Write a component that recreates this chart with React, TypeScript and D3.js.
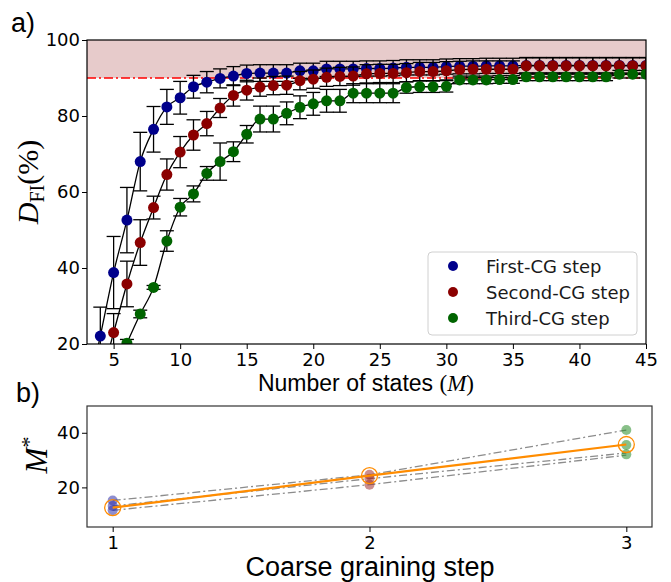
import React, {useEffect, useRef} from 'react';
import * as d3 from 'd3';

const states = [3, 4, 5, 6, 7, 8, 9, 10, 11, 12, 13, 14, 15, 16, 17, 18, 19, 20, 21, 22, 23, 24,
  25, 26, 27, 28, 29, 30, 31, 32, 33, 34, 35, 36, 37, 38, 39, 40, 41, 42, 43, 44, 45];

const firstCG = [6, 22.1, 38.8, 52.6, 68.0, 76.5, 82.4, 84.8, 87.7, 88.9, 89.9, 90.5, 91.2, 91.3, 91.3,
  91.3, 91.9, 91.9, 92.4, 92.4, 92.4, 92.5, 92.5, 92.6, 92.8, 92.8, 92.8, 93.0, 93.1, 93.1, 93.2, 93.2,
  93.2, 93.3, 93.3, 93.3, 93.3, 93.3, 93.3, 93.3, 93.3, 93.3, 93.3];
const firstErr = [7, 7.6, 9.5, 8.6, 7.7, 6.0, 4.6, 4.3, 3.0, 2.8, 2.5, 2.5, 2.2, 2.2, 2.2, 2.2, 2.0,
  2.0, 2.0, 2.0, 2.0, 2.0, 2.0, 2.0, 2.0, 2.0, 2.0, 2.0, 2.0, 2.0, 2.0, 2.0, 2.0, 2.0, 2.0, 2.0, 2.0,
  2.0, 2.0, 2.0, 2.0, 2.0, 2.0];

const secondCG = [null, 10, 23, 35.8, 46.7, 55.9, 64.6, 70.5, 75.0, 78.0, 82.1, 85.4, 86.8, 87.6, 88.0,
  88.1, 89.3, 89.7, 90.2, 90.4, 90.5, 91.1, 91.2, 91.2, 91.4, 91.7, 91.7, 91.9, 92.2, 92.3, 92.3, 92.3,
  92.3, 93.2, 93.2, 93.2, 93.2, 93.2, 93.2, 93.2, 93.2, 93.2, 93.2];
const secondErr = [null, 6, 5, 6, 6, 3, 4.1, 4.1, 4.0, 3.2, 2.5, 2.8, 2.6, 2.4, 2.4, 2.4, 2.4, 2.4,
  2.4, 2.4, 2.4, 2.4, 2.4, 2.4, 2.4, 2.4, 2.4, 2.4, 2.2, 2.2, 2.2, 2.2, 2.2, 2.2, 2.2, 2.2, 2.2, 2.2,
  2.2, 2.2, 2.2, 2.2, 2.2];

const thirdCG = [null, null, 12, 20.2, 27.9, 34.9, 47.1, 56.0, 59.5, 64.9, 68.0, 70.6, 75.2, 79.2, 79.2,
  80.7, 82.3, 83.2, 84.0, 84.0, 86.0, 86.0, 86.0, 86.0, 87.5, 87.7, 87.7, 87.8, 89.5, 89.5, 89.5, 89.6,
  89.6, 90.3, 90.3, 90.3, 90.3, 90.3, 90.3, 90.3, 91.0, 91.0, 91.0];
const thirdErr = [null, null, 1, 1, 1, 0.5, 2.7, 2.3, 2.1, 1.8, 4.9, 2.6, 2.3, 3.4, 3.4, 3.0, 3.0, 3.0,
  3.0, 3.0, 2.5, 2.5, 2.5, 2.5, 1.5, 1.5, 1.5, 1.5, 1.0, 1.0, 1.0, 1.0, 1.0, 1.0, 1.0, 1.0, 1.0, 1.0,
  1.0, 1.0, 1.0, 1.0, 1.0];

const seriesNames = ['First-CG step', 'Second-CG step', 'Third-CG step'];
const seriesColors = ['#00008b', '#8b0000', '#006400'];

const xTicks = [5, 10, 15, 20, 25, 30, 35, 40, 45];
const yTicks = [20, 40, 60, 80, 100];

// panel b
const cgSteps = [1, 2, 3];
const runUpper = [15.2, 24.6, 41.0];
const runMiddle = [13.2, 23.2, 32.6];
const runLower = [11.6, 21.0, 31.8];
const stepPoints = [
  [15.2, 13.2, 11.6],
  [24.6, 23.2, 21.0],
  [41.0, 35.5, 32.1],
];
const stepColors = ['rgba(50,50,170,0.55)', 'rgba(160,50,50,0.55)', 'rgba(40,140,40,0.55)'];
const mStar = [12.6, 24.3, 35.7];
const bYTicks = [20, 40];

const App = () => {
  const svgRef = useRef(null);

  useEffect(() => {
    document.body.style.margin = '0';
    const svg = d3.select(svgRef.current);
    svg.selectAll('*').remove();

    const tickFont = 'DejaVu Sans';

    // ---- panel a
    const x = d3.scaleLinear().domain([3, 45]).range([87, 646]);
    const y = d3.scaleLinear().domain([20, 100]).range([344, 40]);

    svg.append('clipPath').attr('id', 'clipA')
      .append('rect').attr('x', 87).attr('y', 40).attr('width', 559).attr('height', 304);

    const plot = svg.append('g').attr('clip-path', 'url(#clipA)');

    plot.append('rect')
      .attr('x', x(3)).attr('width', x(45) - x(3))
      .attr('y', y(100)).attr('height', y(90) - y(100))
      .attr('fill', '#e7cbcb');

    plot.append('line')
      .attr('x1', x(3)).attr('x2', x(45))
      .attr('y1', y(90)).attr('y2', y(90))
      .attr('stroke', 'red').attr('stroke-width', 1.6)
      .attr('stroke-dasharray', '9,3,2,3');

    const series = [
      {vals: firstCG, errs: firstErr},
      {vals: secondCG, errs: secondErr},
      {vals: thirdCG, errs: thirdErr},
    ];

    const line = d3.line()
      .defined(d => d[1] != null)
      .x(d => x(d[0]))
      .y(d => y(d[1]))
      .curve(d3.curveMonotoneX);

    series.forEach((s, i) => {
      const pts = states.map((st, j) => [st, s.vals[j], s.errs[j]]).filter(d => d[1] != null);
      plot.append('path')
        .datum(pts)
        .attr('d', line)
        .attr('fill', 'none')
        .attr('stroke', 'black')
        .attr('stroke-width', 1.3);

      const bars = plot.append('g').attr('stroke', 'black').attr('stroke-width', 1.3);
      pts.forEach(d => {
        const cx = x(d[0]);
        const lo = y(d[1] - d[2]);
        const hi = y(d[1] + d[2]);
        bars.append('line').attr('x1', cx).attr('x2', cx).attr('y1', lo).attr('y2', hi);
        bars.append('line').attr('x1', cx - 7).attr('x2', cx + 7).attr('y1', lo).attr('y2', lo);
        bars.append('line').attr('x1', cx - 7).attr('x2', cx + 7).attr('y1', hi).attr('y2', hi);
      });

      plot.append('g')
        .selectAll('circle')
        .data(pts)
        .enter()
        .append('circle')
        .attr('cx', d => x(d[0]))
        .attr('cy', d => y(d[1]))
        .attr('r', 5.5)
        .attr('fill', seriesColors[i]);
    });

    svg.append('rect')
      .attr('x', 87).attr('y', 40).attr('width', 559).attr('height', 304)
      .attr('fill', 'none').attr('stroke', 'black').attr('stroke-width', 1.2);

    const xAxis = svg.append('g')
      .attr('transform', 'translate(0,344)')
      .call(d3.axisBottom(x).tickValues(xTicks).tickSize(5).tickPadding(4).tickSizeOuter(0));
    const yAxis = svg.append('g')
      .attr('transform', 'translate(87,0)')
      .call(d3.axisLeft(y).tickValues(yTicks).tickSize(5).tickPadding(2).tickSizeOuter(0));
    [xAxis, yAxis].forEach(a => {
      a.select('.domain').remove();
      a.selectAll('text').attr('font-family', tickFont).attr('font-size', 18).attr('fill', 'black');
    });

    // legend
    const leg = svg.append('g');
    leg.append('rect')
      .attr('x', 428).attr('y', 252).attr('width', 209).attr('height', 83).attr('rx', 4)
      .attr('fill', 'white').attr('fill-opacity', 0.8).attr('stroke', '#d0d0d0');
    seriesNames.forEach((n, i) => {
      const ly = 266 + i * 26;
      leg.append('circle').attr('cx', 453).attr('cy', ly).attr('r', 5).attr('fill', seriesColors[i]);
      leg.append('text').attr('x', 486).attr('y', ly + 6.5)
        .attr('font-family', tickFont).attr('font-size', 18).attr('fill', '#1a1a1a').text(n);
    });

    // labels panel a
    svg.append('text').attr('x', 11).attr('y', 32)
      .attr('font-family', 'Liberation Sans').attr('font-size', 27).text('a)');

    const xl = svg.append('text').attr('x', 366).attr('y', 391).attr('text-anchor', 'middle')
      .attr('font-family', 'Liberation Sans').attr('font-size', 23);
    xl.append('tspan').text('Number of states ');
    xl.append('tspan').attr('font-family', 'Liberation Serif').text('(');
    xl.append('tspan').attr('font-family', 'Liberation Serif').attr('font-style', 'italic').text('M');
    xl.append('tspan').attr('font-family', 'Liberation Serif').text(')');

    const yl = svg.append('text')
      .attr('transform', 'translate(38,182) rotate(-90)')
      .attr('text-anchor', 'middle')
      .attr('font-family', 'Liberation Serif').attr('font-size', 30);
    yl.append('tspan').attr('font-style', 'italic').text('D');
    yl.append('tspan').attr('font-size', 20).attr('dy', 6).text('FI');
    yl.append('tspan').attr('dy', -6).text('(%)');

    // ---- panel b
    const xb = d3.scaleLinear().domain([0.9, 3.1]).range([87, 652]);
    const yb = d3.scaleLinear().domain([5.5, 49.8]).range([527, 406]);

    const lineB = d3.line()
      .x((d, i) => xb(cgSteps[i]))
      .y(d => yb(d));

    [runUpper, runMiddle, runLower].forEach(r => {
      svg.append('path')
        .datum(r)
        .attr('d', lineB)
        .attr('fill', 'none')
        .attr('stroke', '#8c8c8c')
        .attr('stroke-width', 1.3)
        .attr('stroke-dasharray', '8,3,2,3');
    });

    stepPoints.forEach((vals, i) => {
      vals.forEach(v => {
        svg.append('circle')
          .attr('cx', xb(cgSteps[i])).attr('cy', yb(v)).attr('r', 5)
          .attr('fill', stepColors[i]);
      });
    });

    svg.append('path')
      .datum(mStar)
      .attr('d', lineB)
      .attr('fill', 'none')
      .attr('stroke', '#ff8c00')
      .attr('stroke-width', 2.2);

    svg.append('g')
      .selectAll('circle')
      .data(mStar)
      .enter()
      .append('circle')
      .attr('cx', (d, i) => xb(cgSteps[i]))
      .attr('cy', d => yb(d))
      .attr('r', 8)
      .attr('fill', 'none')
      .attr('stroke', '#ff8c00')
      .attr('stroke-width', 1.3);

    svg.append('rect')
      .attr('x', 87).attr('y', 406).attr('width', 565).attr('height', 121)
      .attr('fill', 'none').attr('stroke', '#333').attr('stroke-width', 1.2);

    const xbAxis = svg.append('g')
      .attr('transform', 'translate(0,527)')
      .call(d3.axisBottom(xb).tickValues(cgSteps).tickFormat(d3.format('d')).tickSize(5).tickPadding(4).tickSizeOuter(0));
    const ybAxis = svg.append('g')
      .attr('transform', 'translate(87,0)')
      .call(d3.axisLeft(yb).tickValues(bYTicks).tickSize(5).tickPadding(2).tickSizeOuter(0));
    [xbAxis, ybAxis].forEach(a => {
      a.select('.domain').remove();
      a.selectAll('text').attr('font-family', tickFont).attr('font-size', 18).attr('fill', 'black');
    });

    svg.append('text').attr('x', 16).attr('y', 402)
      .attr('font-family', 'Liberation Sans').attr('font-size', 27).text('b)');

    svg.append('text').attr('x', 370).attr('y', 576).attr('text-anchor', 'middle')
      .attr('font-family', 'Liberation Sans').attr('font-size', 27).text('Coarse graining step');

    const ybl = svg.append('text')
      .attr('transform', 'translate(47,455) rotate(-90)')
      .attr('text-anchor', 'middle')
      .attr('font-family', 'Liberation Serif').attr('font-size', 31);
    ybl.append('tspan').attr('font-style', 'italic').text('M');
    ybl.append('tspan').attr('font-size', 22).attr('dy', -11).text('*');
  }, []);

  return <svg ref={svgRef} width={671} height={582} style={{display: 'block'}}></svg>;
};

export default App;
